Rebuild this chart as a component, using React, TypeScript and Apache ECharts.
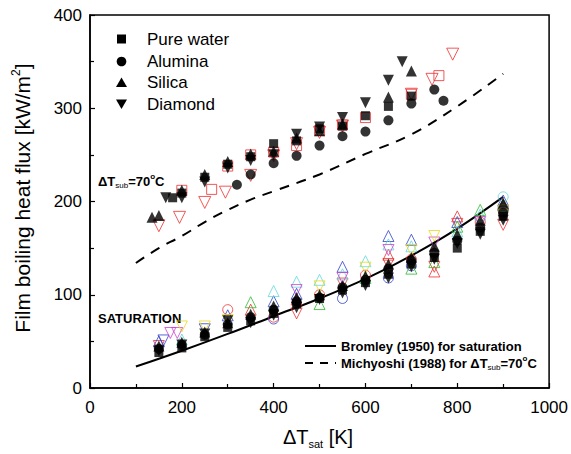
import React, { useEffect, useRef } from "react";
import * as echarts from "echarts";

// ---- Data (ΔTsat [K], heat flux [kW/m²]) ----
// Filled black markers, ΔTsub = 70°C
const pureWater70 = [[180,204],[200,209],[250,226],[300,240],[350,248],[400,262],[450,265],[500,278],[550,281],[600,292],[650,302],[700,313]];
const alumina70 = [[320,218],[350,229],[400,241],[450,249],[500,260],[550,270],[600,275],[650,287],[700,305],[750,320],[770,308]];
const silica70 = [[135,183],[150,185],[200,212],[250,229],[300,243],[350,251],[400,254],[450,268],[500,276],[550,283],[650,312],[700,340]];
const diamond70 = [[165,204],[200,204],[250,221],[300,236],[350,244],[400,250],[450,272],[500,280],[550,290],[600,306],[650,330],[680,350]];
// Open red markers, ΔTsub = 70°C
const redSquare70 = [[200,212],[265,213],[300,238],[350,250],[400,253],[450,260],[500,276],[550,282],[600,290],[700,315],[760,335]];
const redDown70 = [[150,174],[195,183],[250,199],[295,210],[350,228],[400,249],[450,262],[500,274],[550,281],[700,315],[745,331],[790,358]];

// Filled black markers, saturation
const pureWaterSat = [[150,38],[200,43],[250,55],[300,65],[350,72],[400,80],[450,90],[500,96],[550,105],[600,113],[650,122],[700,133],[750,140],[800,150],[850,168],[900,184]];
const aluminaSat = [[150,42],[200,46],[250,57],[300,68],[350,76],[400,84],[450,93],[500,97],[550,108],[600,116],[650,128],[700,137],[750,145],[800,158],[850,172],[900,188]];
const silicaSat = [[150,45],[200,49],[250,60],[300,70],[350,79],[400,88],[450,97],[500,100],[550,110],[600,120],[650,133],[700,140],[750,152],[800,165],[850,180],[900,198]];
const diamondSat = [[150,40],[200,46],[250,58],[300,72],[350,70],[400,78],[450,86],[500,95],[550,102],[600,110],[650,118],[700,130],[750,138],[800,155],[850,165],[900,180]];

// Open coloured markers, saturation
const redCircleSat = [[300,84],[400,76],[500,100],[600,121],[700,138],[850,178],[900,190]];
const redUpSat = [[350,84],[450,95],[650,143],[750,125],[800,184],[900,197]];
const redDownSat = [[150,45],[450,80],[550,112],[650,133],[750,130],[800,176],[900,175]];
const blueUpSat = [[150,50],[300,78],[400,93],[450,101],[550,130],[650,163],[700,159],[800,178],[900,201]];
const blueCircleSat = [[400,74],[550,96],[650,118],[700,131],[900,193]];
const blueDownSat = [[160,51],[250,63]];
const cyanUpSat = [[200,52],[400,104],[450,114],[500,116],[550,122],[600,136],[650,154],[700,152],[800,168],[850,186]];
const cyanCircleSat = [[900,205]];
const greenUpSat = [[350,92],[500,90],[600,118],[700,128],[750,135],[800,173],[850,191],[900,196]];
const magentaDownSat = [[175,59],[190,59],[450,105],[550,118],[650,148],[750,156],[850,178]];
const yellowDownSat = [[200,66],[250,66],[300,73],[500,109],[600,129],[700,148],[750,163],[900,190]];

// Correlations
const bromley = [[100,23],[200,40],[300,58],[400,77],[500,96],[600,117],[700,142],[800,171],[900,205]];
const michiyoshi = [[100,134],[150,150],[200,163],[250,178],[300,191],[350,202],[400,211],[500,229],[600,251],[700,272],[800,302],[900,337]];

const xTicks = [0, 200, 400, 600, 800, 1000];
const yTicks = [0, 100, 200, 300, 400];

const legendNames = ["Pure water", "Alumina", "Silica", "Diamond"];

const DOWN = "path://M0,0L10,0L5,9Z";
const FONT = "Liberation Sans";

export default function App() {
  const ref = useRef<HTMLDivElement>(null);
  useEffect(() => {
    if (!ref.current) return;
    const chart = echarts.init(ref.current, null, { renderer: "svg" });

    const open = (name: string, data: number[][], symbol: string, color: string, size = 11) => ({
      type: "scatter", name, data, symbol, symbolSize: size, z: 3,
      itemStyle: { color: "rgba(255,255,255,0)", borderColor: color, borderWidth: 1 },
      emphasis: { disabled: true },
    });
    const filled = (name: string, data: number[][], symbol: string, size: number) => ({
      type: "scatter", name, data, symbol, symbolSize: size, z: 4,
      itemStyle: { color: "#000", borderWidth: 0 },
      emphasis: { disabled: true },
    });

    const RED = "#ee3030", BLUE = "#3040c8", CYAN = "#60d8dc", GREEN = "#30b830", MAG = "#cc40cc", YEL = "#e8d820";

    const legendY = [39, 61.5, 82.5, 104];
    const lx = 121.5;
    const legendGraphics: any[] = [
      { type: "rect", shape: { x: lx - 4.5, y: legendY[0] - 4.5, width: 9, height: 9 }, style: { fill: "#000" } },
      { type: "circle", shape: { cx: lx, cy: legendY[1], r: 4.8 }, style: { fill: "#000" } },
      { type: "polygon", shape: { points: [[lx - 5.5, legendY[2] + 4.5], [lx + 5.5, legendY[2] + 4.5], [lx, legendY[2] - 5]] }, style: { fill: "#000" } },
      { type: "polygon", shape: { points: [[lx - 5.5, legendY[3] - 4.5], [lx + 5.5, legendY[3] - 4.5], [lx, legendY[3] + 5]] }, style: { fill: "#000" } },
      ...legendNames.map((n, i) => ({
        type: "text", x: 147, y: legendY[i],
        style: { text: n, font: `17px '${FONT}'`, fill: "#000", textVerticalAlign: "middle", textAlign: "left" },
      })),
    ];

    const option: any = {
      animation: false,
      textStyle: { fontFamily: FONT },
      grid: { left: 90, right: 21, top: 15, bottom: 66, show: true, borderColor: "#000", borderWidth: 1.5, backgroundColor: "transparent" },
      xAxis: {
        type: "value", min: 0, max: 1000, interval: 200,
        axisLine: { show: true, lineStyle: { color: "#000", width: 1.5 } },
        axisTick: { show: true, inside: true, length: 5, lineStyle: { color: "#000", width: 1.2 } },
        minorTick: { show: true, splitNumber: 2, length: 4, lineStyle: { color: "#000", width: 1.2 } },
        splitLine: { show: false },
        axisLabel: { color: "#000", fontSize: 17, fontFamily: FONT, margin: 11, formatter: (v: number) => (xTicks.includes(v) ? String(v) : "") },
      },
      yAxis: {
        type: "value", min: 0, max: 400, interval: 100,
        axisLine: { show: true, lineStyle: { color: "#000", width: 1.5 } },
        axisTick: { show: true, inside: true, length: 5, lineStyle: { color: "#000", width: 1.2 } },
        minorTick: { show: true, splitNumber: 2, length: 4, lineStyle: { color: "#000", width: 1.2 } },
        splitLine: { show: false },
        axisLabel: { color: "#000", fontSize: 17, fontFamily: FONT, margin: 8, formatter: (v: number) => (yTicks.includes(v) ? String(v) : "") },
      },
      series: [
        { type: "line", name: "Bromley (1950) for saturation", data: bromley, smooth: 0.4, showSymbol: false, symbol: "none", z: 2,
          lineStyle: { color: "#000", width: 2 } },
        { type: "line", name: "Michyoshi (1988) for ΔTsub=70°C", data: michiyoshi, smooth: 0.4, showSymbol: false, symbol: "none", z: 2,
          lineStyle: { color: "#000", width: 2, type: [10, 8] } },
        open("redCircle", redCircleSat, "circle", RED, 10),
        open("redUp", redUpSat, "triangle", RED),
        open("redDown", redDownSat, DOWN, RED),
        open("blueUp", blueUpSat, "triangle", BLUE),
        open("blueCircle", blueCircleSat, "circle", BLUE, 10),
        open("blueDown", blueDownSat, DOWN, BLUE),
        open("cyanUp", cyanUpSat, "triangle", CYAN),
        open("cyanCircle", cyanCircleSat, "circle", CYAN, 10),
        open("greenUp", greenUpSat, "triangle", GREEN),
        open("magentaDown", magentaDownSat, DOWN, MAG),
        open("yellowDown", yellowDownSat, DOWN, YEL),
        { ...open("redSquare70", redSquare70, "rect", RED, 10), z: 3 },
        { ...open("redDown70", redDown70, DOWN, RED, 12), z: 3 },
        filled("Pure water", [...pureWaterSat, ...pureWater70], "rect", 9),
        filled("Alumina", [...aluminaSat, ...alumina70], "circle", 10),
        filled("Silica", [...silicaSat, ...silica70], "triangle", 11),
        filled("Diamond", [...diamondSat, ...diamond70], DOWN, 11),
      ],
      graphic: [
        ...legendGraphics,
        {
          type: "text", x: 22, y: 198, rotation: Math.PI / 2,
          style: {
            text: "{a|Film boiling heat flux [kW/m}{s|2}{a|]}",
            textAlign: "center", textVerticalAlign: "middle",
            rich: { a: { fontSize: 21, fontFamily: FONT, color: "#000", lineHeight: 25 }, s: { fontSize: 12, fontFamily: FONT, color: "#000", verticalAlign: "top", lineHeight: 25 } },
          },
        },
        {
          type: "text", x: 318, y: 437,
          style: {
            text: "{a|ΔT}{s|sat}{a| [K]}",
            textAlign: "center", textVerticalAlign: "middle",
            rich: { a: { fontSize: 20, fontFamily: FONT, color: "#000", lineHeight: 24 }, s: { fontSize: 11, fontFamily: FONT, color: "#000", verticalAlign: "bottom", lineHeight: 20 } },
          },
        },
        {
          type: "text", x: 98, y: 181,
          style: {
            text: "{a|ΔT}{s|sub}{a|=70}{o|o}{a|C}",
            textAlign: "left", textVerticalAlign: "middle",
            rich: {
              a: { fontSize: 13, fontWeight: "bold", fontFamily: FONT, color: "#000", lineHeight: 17 },
              s: { fontSize: 8, fontFamily: FONT, color: "#000", verticalAlign: "bottom", lineHeight: 14 },
              o: { fontSize: 8, fontWeight: "bold", fontFamily: FONT, color: "#000", verticalAlign: "top", lineHeight: 17 },
            },
          },
        },
        {
          type: "text", x: 98, y: 318,
          style: { text: "SATURATION", font: `bold 13px '${FONT}'`, fill: "#000", textAlign: "left", textVerticalAlign: "middle" },
        },
        { type: "line", shape: { x1: 305, y1: 346, x2: 336, y2: 346 }, style: { stroke: "#000", lineWidth: 2 } },
        { type: "line", shape: { x1: 305, y1: 363, x2: 336, y2: 363 }, style: { stroke: "#000", lineWidth: 2, lineDash: [8, 7] } },
        {
          type: "text", x: 341, y: 346,
          style: { text: "Bromley (1950) for saturation", font: `bold 13px '${FONT}'`, fill: "#000", textAlign: "left", textVerticalAlign: "middle" },
        },
        {
          type: "text", x: 341, y: 363,
          style: {
            text: "{a|Michyoshi (1988) for ΔT}{s|sub}{a|=70}{o|o}{a|C}",
            textAlign: "left", textVerticalAlign: "middle",
            rich: {
              a: { fontSize: 13, fontWeight: "bold", fontFamily: FONT, color: "#000", lineHeight: 17 },
              s: { fontSize: 8, fontFamily: FONT, color: "#000", verticalAlign: "bottom", lineHeight: 14 },
              o: { fontSize: 8, fontWeight: "bold", fontFamily: FONT, color: "#000", verticalAlign: "top", lineHeight: 17 },
            },
          },
        },
      ],
    };
    chart.setOption(option);
    return () => chart.dispose();
  }, []);
  return <div ref={ref} style={{ width: 571, height: 454, position: "absolute", left: 0, top: 0, background: "#fff" }} />;
}
